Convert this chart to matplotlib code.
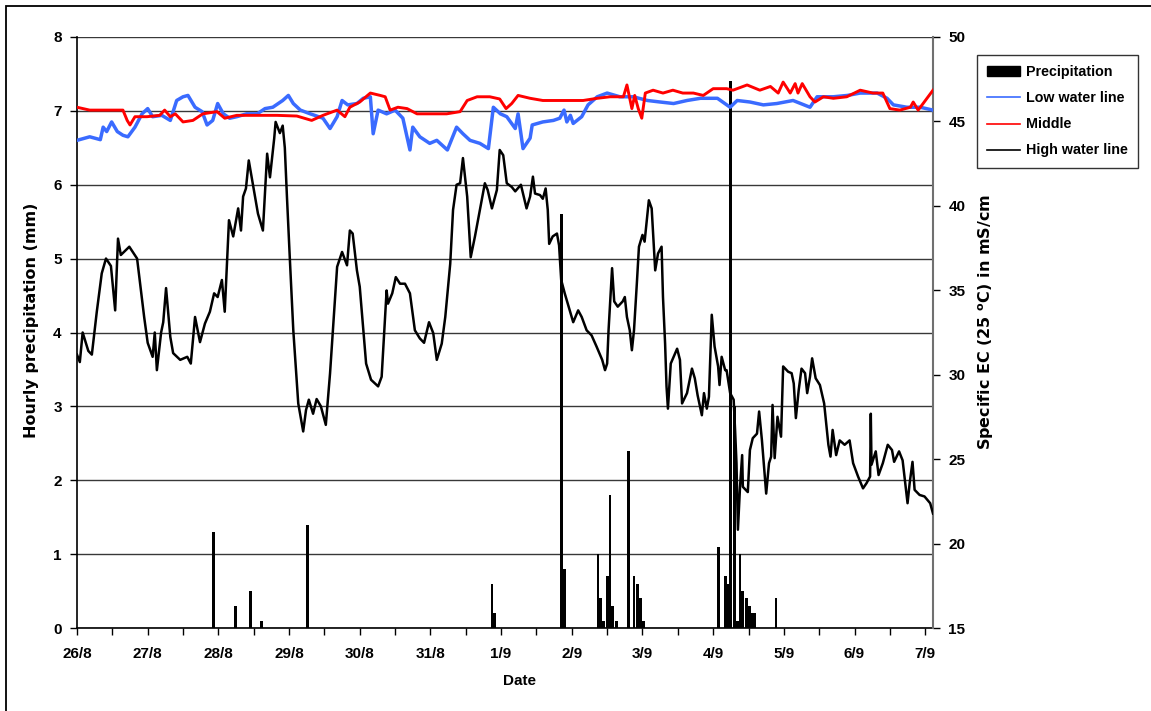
import numpy as np
import matplotlib
matplotlib.use("Agg")
import matplotlib.pyplot as plt
from matplotlib.patches import Patch, Rectangle
from matplotlib.lines import Line2D

# ── Data (x in days from 26/8 00:00) ─────────────────────────────────────────

DAY_LABELS = ["26/8", "27/8", "28/8", "29/8", "30/8", "31/8", "1/9",
              "2/9", "3/9", "4/9", "5/9", "6/9", "7/9"]

# hourly precipitation (mm)
rain_day = [1.93, 2.24, 2.45, 2.61, 3.26, 5.87, 5.91, 6.86, 6.90, 7.37,
            7.41, 7.45, 7.50, 7.54, 7.58, 7.63, 7.80, 7.88, 7.93, 7.97,
            8.01, 9.08, 9.17, 9.21, 9.25, 9.30, 9.34, 9.38, 9.42, 9.47,
            9.51, 9.55, 9.59, 9.89]
rain_mm = [1.3, 0.3, 0.5, 0.1, 1.4, 0.6, 0.2, 5.6, 0.8, 1.0,
           0.4, 0.1, 0.7, 1.8, 0.3, 0.1, 2.4, 0.7, 0.6, 0.4,
           0.1, 1.1, 0.7, 0.6, 7.4, 3.0, 0.1, 1.0, 0.5, 0.4,
           0.3, 0.2, 0.2, 0.4]

# specific EC, low water line (mS/cm)
low_day = [0.00, 0.18, 0.33, 0.37, 0.42, 0.49, 0.57, 0.65, 0.72, 0.82,
           0.92, 1.00, 1.07, 1.20, 1.32, 1.41, 1.50, 1.57, 1.67, 1.77,
           1.84, 1.92, 1.99, 2.07, 2.16, 2.26, 2.40, 2.55, 2.66, 2.77,
           2.91, 2.99, 3.06, 3.16, 3.30, 3.48, 3.58, 3.68, 3.75, 3.83,
           3.96, 4.05, 4.15, 4.19, 4.26, 4.38, 4.50, 4.61, 4.71, 4.75,
           4.85, 4.99, 5.09, 5.24, 5.37, 5.46, 5.56, 5.70, 5.82, 5.89,
           5.99, 6.08, 6.20, 6.24, 6.31, 6.41, 6.44, 6.59, 6.74, 6.83,
           6.89, 6.93, 6.98, 7.02, 7.14, 7.23, 7.36, 7.50, 7.68, 7.87,
           8.07, 8.25, 8.44, 8.63, 8.82, 9.06, 9.24, 9.34, 9.52, 9.71,
           9.90, 10.13, 10.37, 10.47, 10.70, 10.90, 11.08, 11.32, 11.46, 11.55,
           11.74, 11.93, 12.11]
low_ec = [43.88, 44.09, 43.92, 44.66, 44.40, 44.97, 44.40, 44.18, 44.09, 44.66,
          45.45, 45.76, 45.28, 45.36, 45.06, 46.24, 46.46, 46.54, 45.84, 45.58,
          44.79, 45.06, 46.06, 45.45, 45.19, 45.28, 45.45, 45.45, 45.76, 45.84,
          46.24, 46.54, 46.06, 45.67, 45.45, 45.19, 44.58, 45.28, 46.24, 45.98,
          46.06, 46.37, 46.46, 44.27, 45.67, 45.45, 45.67, 45.19, 43.31, 44.66,
          44.09, 43.70, 43.88, 43.31, 44.66, 44.27, 43.88, 43.70, 43.39, 45.84,
          45.45, 45.28, 44.58, 45.45, 43.39, 44.01, 44.79, 44.97, 45.06, 45.19,
          45.67, 44.97, 45.36, 44.88, 45.28, 45.98, 46.46, 46.68, 46.46, 46.46,
          46.24, 46.15, 46.06, 46.24, 46.37, 46.37, 45.84, 46.24, 46.15, 45.98,
          46.06, 46.24, 45.84, 46.46, 46.46, 46.54, 46.68, 46.68, 46.37, 45.98,
          45.84, 45.84, 45.67]

# specific EC, middle (mS/cm)
mid_day = [0.00, 0.18, 0.42, 0.65, 0.71, 0.75, 0.82, 0.99, 1.17, 1.24,
           1.32, 1.39, 1.50, 1.64, 1.78, 1.98, 2.09, 2.26, 2.55, 2.83,
           3.11, 3.32, 3.48, 3.68, 3.79, 3.86, 4.00, 4.15, 4.29, 4.36,
           4.43, 4.54, 4.67, 4.81, 4.99, 5.23, 5.42, 5.52, 5.66, 5.84,
           5.98, 6.07, 6.15, 6.24, 6.41, 6.59, 6.79, 6.98, 7.16, 7.36,
           7.54, 7.73, 7.78, 7.85, 7.89, 7.94, 7.99, 8.04, 8.15, 8.29,
           8.43, 8.57, 8.72, 8.86, 9.00, 9.19, 9.28, 9.48, 9.66, 9.81,
           9.92, 9.99, 10.09, 10.16, 10.20, 10.26, 10.37, 10.44, 10.56, 10.70,
           10.89, 11.08, 11.26, 11.40, 11.50, 11.64, 11.79, 11.83, 11.90, 11.97,
           12.11]
mid_ec = [45.84, 45.67, 45.67, 45.67, 45.06, 44.79, 45.28, 45.28, 45.36, 45.67,
          45.28, 45.45, 44.97, 45.06, 45.45, 45.58, 45.19, 45.36, 45.36, 45.36,
          45.32, 45.06, 45.36, 45.67, 45.28, 45.84, 46.15, 46.68, 46.54, 46.46,
          45.67, 45.84, 45.76, 45.45, 45.45, 45.45, 45.58, 46.24, 46.46, 46.46,
          46.33, 45.76, 46.06, 46.54, 46.37, 46.24, 46.24, 46.24, 46.24, 46.37,
          46.46, 46.46, 47.16, 45.76, 46.54, 45.76, 45.19, 46.68, 46.85, 46.68,
          46.85, 46.68, 46.68, 46.54, 46.94, 46.94, 46.85, 47.16, 46.85, 47.07,
          46.68, 47.33, 46.68, 47.24, 46.68, 47.24, 46.46, 46.15, 46.46, 46.37,
          46.46, 46.85, 46.68, 46.68, 45.76, 45.67, 45.84, 46.15, 45.67, 46.06,
          46.85]

# specific EC, high water line (mS/cm)
high_day = [0.00, 0.04, 0.08, 0.16, 0.21, 0.28, 0.35, 0.41, 0.48, 0.54,
            0.58, 0.62, 0.74, 0.85, 0.95, 1.00, 1.07, 1.10, 1.13, 1.19,
            1.22, 1.26, 1.32, 1.36, 1.46, 1.56, 1.61, 1.67, 1.74, 1.81,
            1.88, 1.94, 1.99, 2.05, 2.09, 2.15, 2.21, 2.28, 2.32, 2.35,
            2.39, 2.43, 2.49, 2.56, 2.63, 2.69, 2.73, 2.79, 2.81, 2.87,
            2.91, 2.94, 2.97, 3.01, 3.06, 3.13, 3.20, 3.24, 3.28, 3.34,
            3.39, 3.45, 3.52, 3.58, 3.62, 3.68, 3.75, 3.82, 3.86, 3.90,
            3.96, 4.00, 4.09, 4.16, 4.26, 4.31, 4.38, 4.40, 4.46, 4.51,
            4.57, 4.64, 4.71, 4.78, 4.85, 4.91, 4.98, 5.04, 5.09, 5.16,
            5.21, 5.28, 5.32, 5.37, 5.42, 5.46, 5.52, 5.57, 5.63, 5.70,
            5.77, 5.81, 5.87, 5.94, 5.98, 6.03, 6.08, 6.15, 6.20, 6.28,
            6.36, 6.41, 6.45, 6.48, 6.55, 6.59, 6.63, 6.66, 6.68, 6.73,
            6.79, 6.82, 6.85, 6.90, 6.97, 7.02, 7.09, 7.14, 7.21, 7.28,
            7.35, 7.43, 7.47, 7.50, 7.52, 7.57, 7.60, 7.65, 7.72, 7.75,
            7.78, 7.82, 7.85, 7.88, 7.92, 7.95, 8.00, 8.03, 8.09, 8.13,
            8.18, 8.22, 8.27, 8.29, 8.32, 8.34, 8.36, 8.40, 8.49, 8.53,
            8.56, 8.63, 8.70, 8.74, 8.78, 8.84, 8.87, 8.91, 8.94, 8.98,
            9.02, 9.07, 9.09, 9.12, 9.17, 9.19, 9.24, 9.29, 9.31, 9.33,
            9.35, 9.38, 9.41, 9.42, 9.49, 9.52, 9.56, 9.62, 9.65, 9.69,
            9.75, 9.79, 9.82, 9.84, 9.87, 9.91, 9.96, 9.99, 10.06, 10.11,
            10.14, 10.17, 10.21, 10.25, 10.30, 10.33, 10.37, 10.40, 10.45, 10.51,
            10.57, 10.63, 10.66, 10.69, 10.74, 10.79, 10.86, 10.93, 10.98, 11.05,
            11.12, 11.17, 11.22, 11.23, 11.24, 11.30, 11.34, 11.40, 11.47, 11.53,
            11.56, 11.63, 11.68, 11.75, 11.78, 11.82, 11.85, 11.92, 11.99, 12.07,
            12.11]
high_ec = [31.19, 30.75, 32.50, 31.41, 31.19, 33.73, 36.00, 36.88, 36.44, 33.81,
           38.06, 37.09, 37.58, 36.88, 33.42, 31.89, 31.06, 32.50, 30.27, 32.50,
           33.11, 35.13, 32.24, 31.28, 30.88, 31.06, 30.66, 33.42, 31.93, 33.03,
           33.73, 34.82, 34.60, 35.61, 33.73, 39.15, 38.19, 39.85, 38.54, 40.55,
           41.03, 42.69, 41.25, 39.54, 38.54, 43.09, 41.69, 44.00, 44.97, 44.31,
           44.75, 43.44, 40.55, 36.96, 32.63, 28.30, 26.64, 27.91, 28.52, 27.69,
           28.56, 28.13, 27.03, 30.09, 32.63, 36.39, 37.27, 36.48, 38.54, 38.36,
           36.18, 35.21, 30.66, 29.70, 29.31, 29.88, 34.99, 34.21, 34.82, 35.78,
           35.39, 35.39, 34.82, 32.63, 32.15, 31.89, 33.11, 32.46, 30.88, 31.84,
           33.42, 36.57, 39.76, 41.25, 41.34, 42.83, 40.55, 36.96, 38.19, 39.76,
           41.34, 40.94, 39.85, 40.94, 43.31, 43.00, 41.34, 41.12, 40.86, 41.25,
           39.85, 40.55, 41.73, 40.73, 40.64, 40.42, 41.03, 39.76, 37.75, 38.19,
           38.36, 37.66, 35.61, 34.82, 33.81, 33.11, 33.81, 33.42, 32.63, 32.33,
           31.67, 30.88, 30.27, 30.66, 32.63, 36.31, 34.34, 34.03, 34.34, 34.60,
           33.42, 32.63, 31.45, 32.63, 35.39, 37.58, 38.28, 37.88, 40.33, 39.85,
           36.18, 37.18, 37.58, 34.60, 31.84, 29.31, 27.99, 30.66, 31.54, 30.88,
           28.30, 28.91, 30.36, 29.79, 28.78, 27.60, 28.91, 27.99, 28.69, 33.55,
           31.67, 30.49, 29.39, 31.06, 30.27, 30.27, 28.91, 28.52, 26.73, 24.76,
           20.82, 23.36, 25.24, 23.36, 23.05, 25.54, 26.24, 26.51, 27.82, 26.11,
           22.96, 24.76, 25.15, 28.21, 25.06, 27.51, 26.33, 30.49, 30.18, 30.09,
           29.48, 27.43, 29.09, 30.36, 30.09, 28.91, 29.88, 30.97, 29.79, 29.39,
           28.30, 25.85, 25.15, 26.73, 25.24, 26.11, 25.85, 26.11, 24.76, 23.97,
           23.27, 23.58, 23.97, 27.69, 24.67, 25.46, 24.06, 24.76, 25.85, 25.54,
           24.84, 25.46, 24.93, 22.39, 23.58, 24.84, 23.18, 22.88, 22.79, 22.39,
           21.78]

# ── Plotting ─────────────────────────────────────────────────────────────────

FONT = "Liberation Sans"
plt.rcParams["font.family"] = [FONT, "DejaVu Sans"]
plt.rcParams["font.weight"] = "bold"

fig = plt.figure(figsize=(11.51, 7.11), dpi=100)
ax = fig.add_axes([77 / 1151, 1 - 628 / 711, (933 - 77) / 1151, (628 - 37) / 711])
ax2 = ax.twinx()

# outer chart border
fig.patches.append(Rectangle((6 / 1151, -0.05), 1.2, 1 - 6 / 711 + 0.05,
                             transform=fig.transFigure, fill=False,
                             edgecolor="black", linewidth=1.3))

ax.bar(rain_day, rain_mm, width=0.04, color="black", align="center", zorder=2)
ax.set_ylim(0, 8)
ax.set_xlim(0, 12.11)
ax.set_yticks(range(0, 9))
ax.grid(axis="y", color="#383838", linewidth=1, zorder=0)
ax.set_axisbelow(True)

ticks = np.arange(0, 12.01, 0.5)
ax.set_xticks(ticks)
ax.set_xticklabels([DAY_LABELS[int(t)] if t == int(t) else "" for t in ticks])

ax2.plot(high_day, high_ec, color="black", linewidth=1.8, zorder=3)
ax2.plot(low_day, low_ec, color="#3A6BFF", linewidth=2.5, zorder=4)
ax2.plot(mid_day, mid_ec, color="#FF0000", linewidth=2.1, zorder=5)
ax2.set_ylim(15, 50)
ax2.set_yticks(range(15, 51, 5))

for a in (ax, ax2):
    a.spines["top"].set_visible(False)
    a.tick_params(direction="out", length=5, width=1, labelsize=11, pad=6)
ax.spines["right"].set_visible(False)
ax2.spines["left"].set_visible(False)
ax2.spines["bottom"].set_visible(False)
ax2.spines["right"].set_color("#707070")
ax2.spines["right"].set_linewidth(1.5)
ax.spines["left"].set_linewidth(1.2)
ax.spines["bottom"].set_linewidth(1.2)
ax.tick_params(axis="x", pad=9)

ax.set_xlabel("Date", fontsize=11, fontweight="bold")
ax.xaxis.set_label_coords(0.517, -0.078)
ax.set_ylabel("Hourly precipitation (mm)", fontsize=11.5, fontweight="bold",
              family=["DejaVu Sans"])
ax.yaxis.set_label_coords(-0.044, 0.52)
ax2.set_ylabel("Specific EC (25 $\\mathregular{^{o}}$C) in mS/cm",
               fontsize=11.5, fontweight="bold", family=["DejaVu Sans"])
ax2.yaxis.set_label_coords(1.051, 0.517)

handles = [
    Patch(facecolor="black", edgecolor="black"),
    Line2D([], [], color="#3A6BFF", linewidth=1.2),
    Line2D([], [], color="#FF0000", linewidth=1.2),
    Line2D([], [], color="black", linewidth=1.2),
]
labels = ["Precipitation", "Low water line", "Middle", "High water line"]
leg = fig.legend(handles, labels, loc="upper left",
                 bbox_to_anchor=(977 / 1151, 1 - 55 / 711),
                 frameon=True, fancybox=False, edgecolor="black",
                 fontsize=10.3, handlelength=2.3, handleheight=0.6,
                 handletextpad=0.4, labelspacing=0.85, borderpad=0.7,
                 borderaxespad=0)
leg.get_frame().set_linewidth(1)
for t in leg.get_texts():
    t.set_fontweight("bold")

fig.savefig("out.png", dpi=100)
